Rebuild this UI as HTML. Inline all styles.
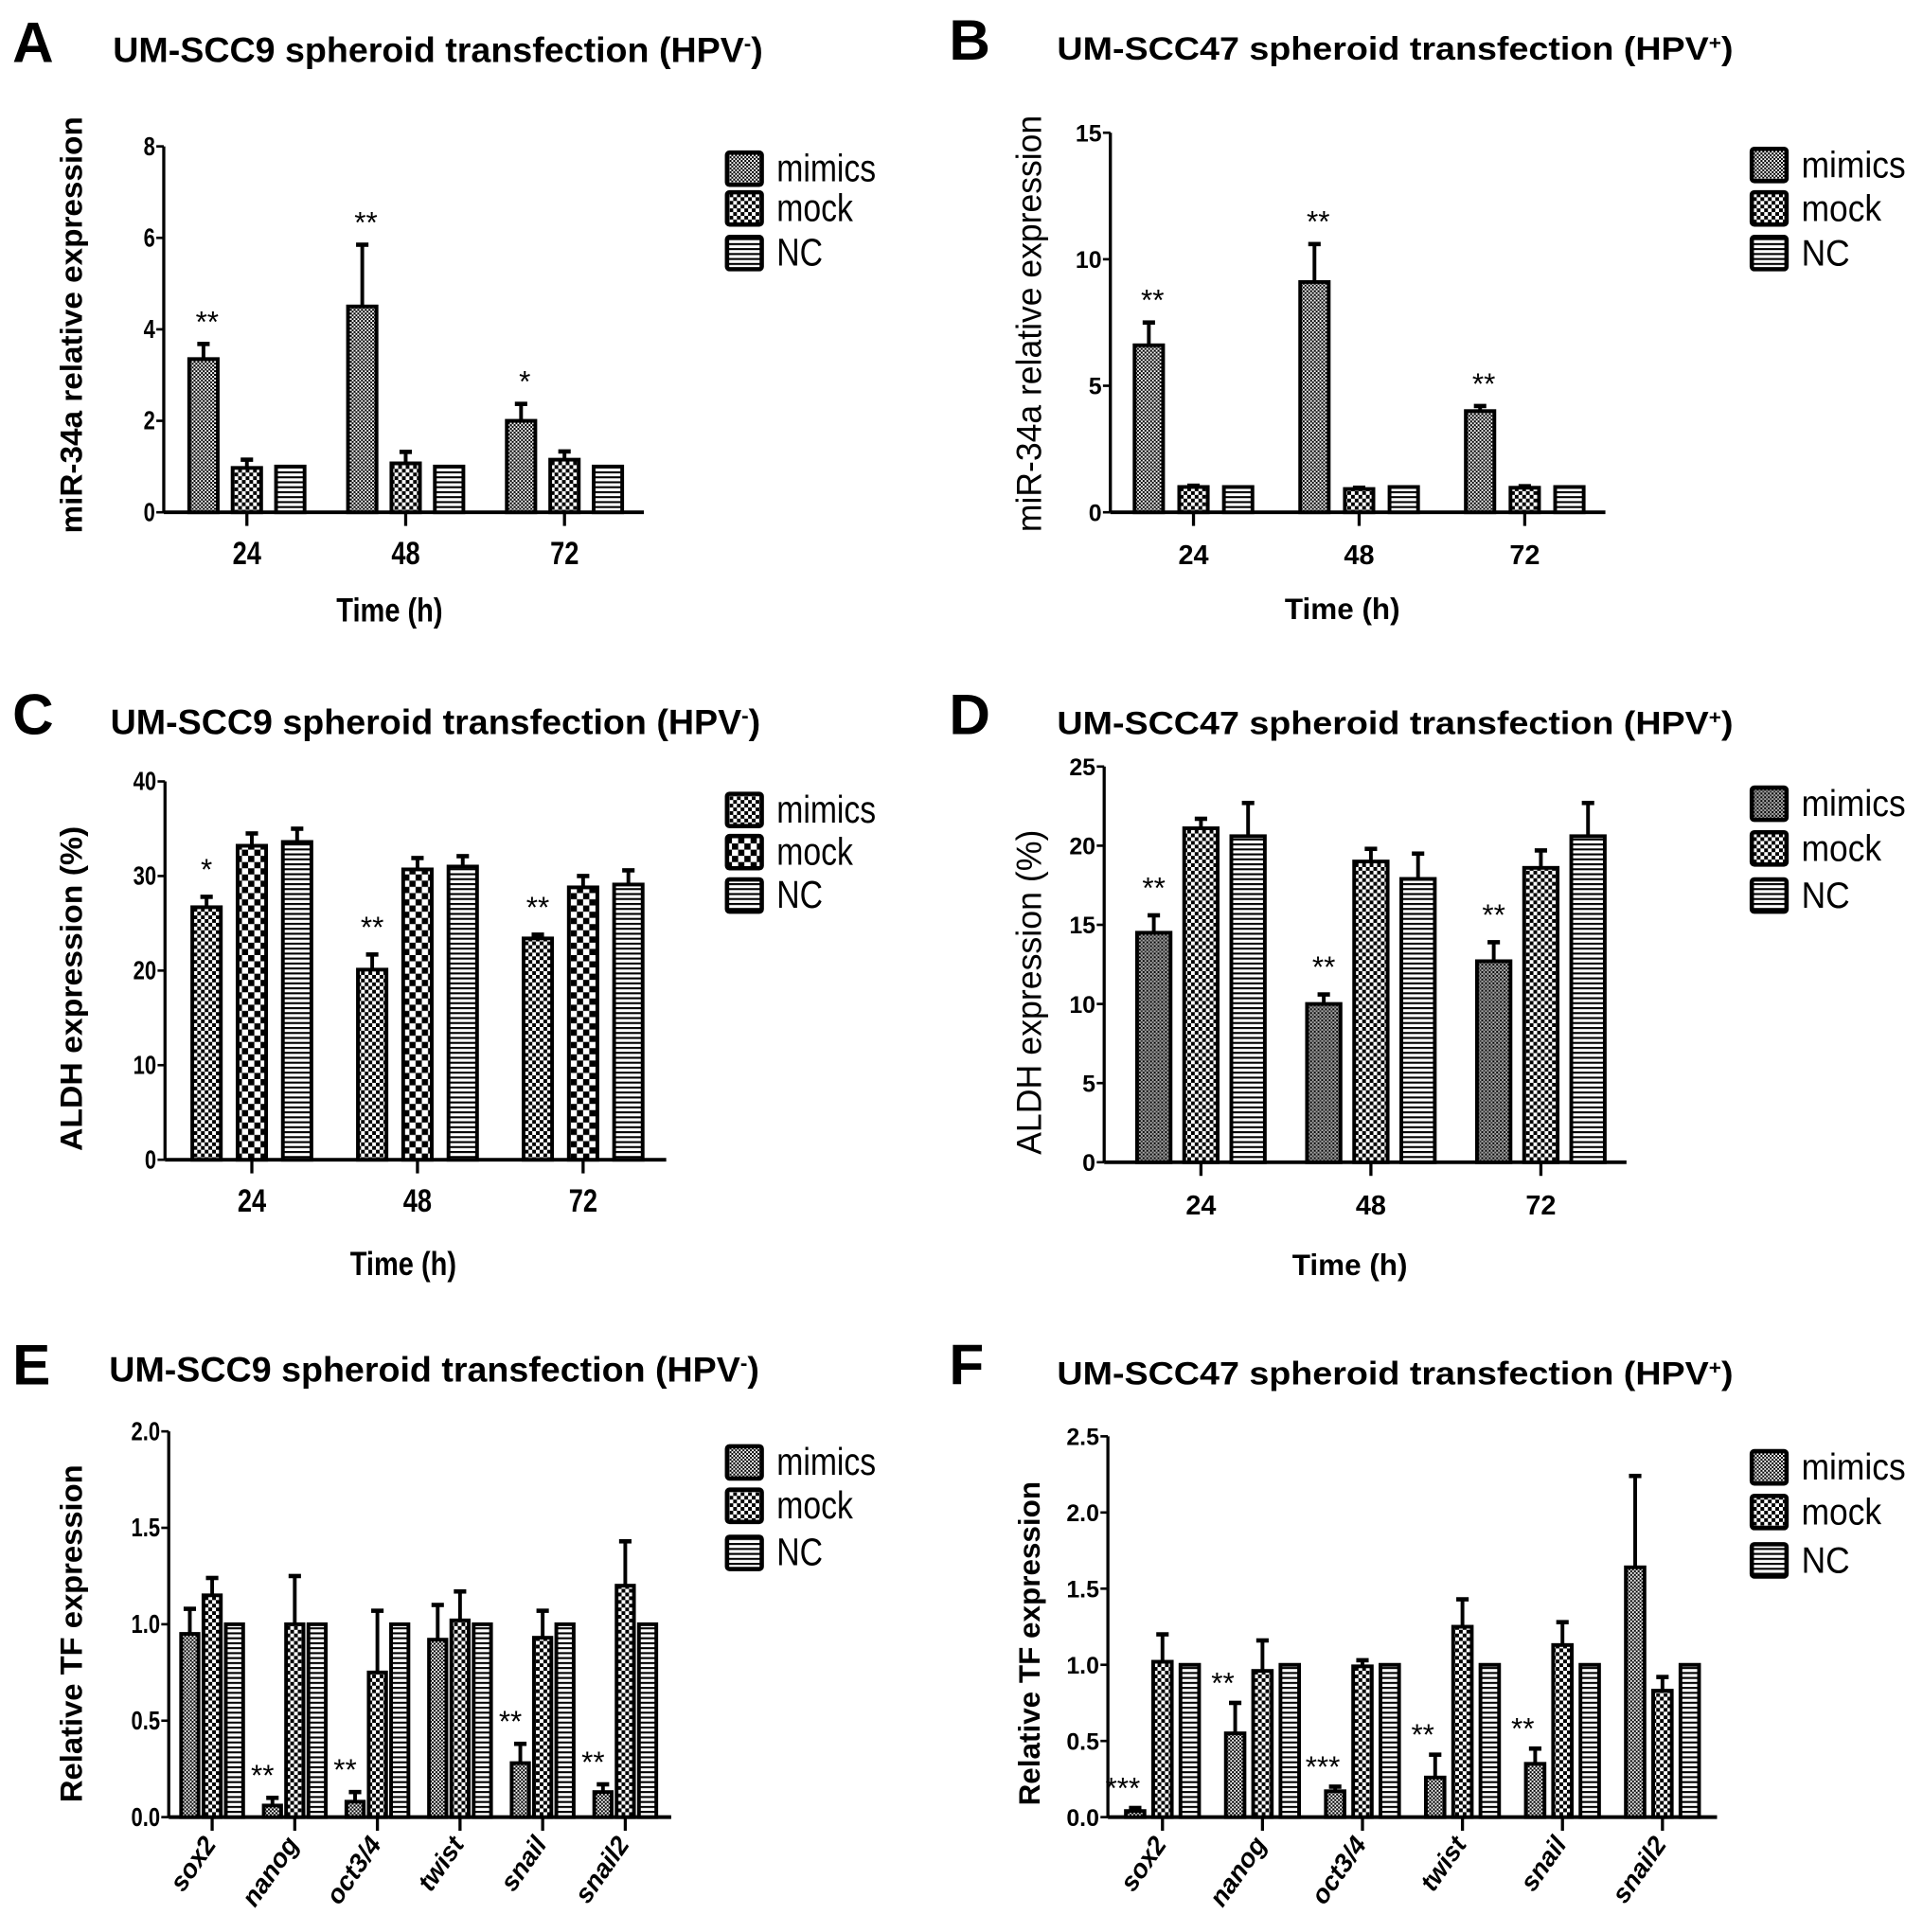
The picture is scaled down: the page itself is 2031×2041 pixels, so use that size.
<!DOCTYPE html>
<html><head><meta charset="utf-8"><style>
html,body{margin:0;padding:0;background:#fff;}
svg{display:block;}
text{font-family:"Liberation Sans",Arial,sans-serif;}
</style></head><body>
<svg id="fig" width="2031" height="2041" viewBox="0 0 1550 1557.6" xmlns="http://www.w3.org/2000/svg">
<defs>
<pattern id="pMim" width="3" height="3" patternUnits="userSpaceOnUse"><rect width="3" height="3" fill="#fff"/><rect width="1.6" height="1.6" fill="#000"/><rect x="1.5" y="1.5" width="1.5" height="1.5" fill="#000"/></pattern>
<pattern id="pMimD" width="3" height="3" patternUnits="userSpaceOnUse"><rect width="3" height="3" fill="#aaa"/><rect width="1.5" height="1.5" fill="#000"/><rect x="1.5" y="1.5" width="1.5" height="1.5" fill="#333"/></pattern>
<pattern id="pMock" width="6" height="6" patternUnits="userSpaceOnUse"><rect width="6" height="6" fill="#fff"/><rect width="3" height="3" fill="#000"/><rect x="3" y="3" width="3" height="3" fill="#000"/></pattern>
<pattern id="pMockL" width="10" height="10" patternUnits="userSpaceOnUse"><rect width="10" height="10" fill="#fff"/><rect width="5" height="5" fill="#000"/><rect x="5" y="5" width="5" height="5" fill="#000"/></pattern>
<pattern id="pNC" width="4" height="4" patternUnits="userSpaceOnUse"><rect width="4" height="4" fill="#fff"/><rect width="4" height="1.6" fill="#000"/></pattern>
</defs>
</svg>
<script>
// Panel A
const catsA = ['24','48','72'];
const mimA = [3.35, 4.5, 2.0];  const mimErrA = [0.33, 1.35, 0.37];
const mockA = [0.97, 1.07, 1.15]; const mockErrA = [0.18, 0.25, 0.18];
const ncA = [1, 1, 1]; const ncErrA = [0, 0, 0];
const sigA = ['**','**','*'];
const ticksA = [0, 2, 4, 6, 8];
// Panel B
const catsB = ['24','48','72'];
const mimB = [6.6, 9.1, 4.0]; const mimErrB = [0.9, 1.5, 0.2];
const mockB = [1.0, 0.92, 0.97]; const mockErrB = [0.05, 0.05, 0.06];
const ncB = [1, 1, 1]; const ncErrB = [0, 0, 0];
const sigB = ['**','**','**'];
const ticksB = [0, 5, 10, 15];
// Panel C
const catsC = ['24','48','72'];
const mimC = [26.7, 20.1, 23.4]; const mimErrC = [1.1, 1.6, 0.4];
const mockC = [33.2, 30.7, 28.8]; const mockErrC = [1.3, 1.2, 1.2];
const ncC = [33.6, 31.0, 29.1]; const ncErrC = [1.4, 1.1, 1.5];
const sigC = ['*','**','**'];
const ticksC = [0, 10, 20, 30, 40];
// Panel D
const catsD = ['24','48','72'];
const mimD = [14.5, 10.0, 12.7]; const mimErrD = [1.1, 0.6, 1.2];
const mockD = [21.1, 19.0, 18.6]; const mockErrD = [0.6, 0.8, 1.1];
const ncD = [20.6, 17.9, 20.6]; const ncErrD = [2.1, 1.6, 2.1];
const sigD = ['**','**','**'];
const ticksD = [0, 5, 10, 15, 20, 25];
// Panel E
const catsE = ['sox2','nanog','oct3/4','twist','snail','snail2'];
const mimE = [0.95, 0.06, 0.08, 0.92, 0.28, 0.13]; const mimErrE = [0.13, 0.04, 0.05, 0.18, 0.10, 0.04];
const mockE = [1.15, 1.0, 0.75, 1.02, 0.93, 1.2]; const mockErrE = [0.09, 0.25, 0.32, 0.15, 0.14, 0.23];
const ncE = [1, 1, 1, 1, 1, 1]; const ncErrE = [0, 0, 0, 0, 0, 0];
const sigE = ['','**','**','','**','**'];
const ticksE = ['0.0','0.5','1.0','1.5','2.0'];
// Panel F
const catsF = ['sox2','nanog','oct3/4','twist','snail','snail2'];
const mimF = [0.04, 0.55, 0.17, 0.26, 0.35, 1.64]; const mimErrF = [0.02, 0.2, 0.03, 0.15, 0.1, 0.6];
const mockF = [1.02, 0.96, 0.99, 1.25, 1.13, 0.83]; const mockErrF = [0.18, 0.2, 0.04, 0.18, 0.15, 0.09];
const ncF = [1, 1, 1, 1, 1, 1]; const ncErrF = [0, 0, 0, 0, 0, 0];
const sigF = ['***','**','***','**','**',''];
const ticksF = ['0.0','0.5','1.0','1.5','2.0','2.5'];

const NS = 'http://www.w3.org/2000/svg';
const svg = document.getElementById('fig');
function mk(tag, attrs, parent, txt){
  const e = document.createElementNS(NS, tag);
  for (const k in attrs) e.setAttribute(k, attrs[k]);
  if (txt !== undefined) e.textContent = txt;
  (parent || svg).appendChild(e);
  return e;
}
function squeeze(el, f){
  try {
    const w = el.getComputedTextLength();
    if (w > 0) { el.setAttribute('textLength', (w * f).toFixed(1)); el.setAttribute('lengthAdjust', 'spacingAndGlyphs'); }
  } catch(e) {}
}

function panel(p){
  const g = mk('g', {});
  
  
  const ymax = p.ticks[p.ticks.length-1] * 1;
  const Y = v => p.y0 - (v / ymax) * (p.y0 - p.yTop);
  const X = i => p.x1 + i * p.step;
  const L = mk('text', {x: p.lx, y: p.ly, 'font-size': 46, 'font-weight': 'bold'}, g, p.letter);
  
  
  const T = mk('text', {x: p.tx, y: p.ty, 'font-size': p.tfs, 'font-weight': 'bold'}, g);
  
  
  T.appendChild(document.createTextNode(p.title));
  mk('tspan', {'baseline-shift': 'super', 'font-size': p.tfs * 0.6}, T, p.sup);
  mk('tspan', {}, T, ')');
  T.setAttribute('textLength', p.tw);
  T.setAttribute('lengthAdjust', 'spacingAndGlyphs');
  const yl = mk('text', {x: 0, y: 0, 'font-size': p.ylfs, 'font-weight': p.ylBold ? 'bold' : 'normal', 'text-anchor': 'middle', transform: `translate(${p.ylx},${p.yly}) rotate(-90)`}, g, p.ylabel);
  
  
  if (p.ylw) { yl.setAttribute('textLength', p.ylw); yl.setAttribute('lengthAdjust', 'spacingAndGlyphs'); }
  const ax = mk('line', {x1: p.ax, y1: p.yTop, x2: p.ax, y2: p.y0, stroke: '#000', 'stroke-width': 2.5}, g);
  
  
  const bx = mk('line', {x1: p.ax, y1: p.y0, x2: p.axEnd, y2: p.y0, stroke: '#000', 'stroke-width': 3}, g);
  
  
  p.ticks.forEach(t => {
    const y = Y(+t);
    mk('line', {x1: p.ax - 6, y1: y, x2: p.ax, y2: y, stroke: '#000', 'stroke-width': 2}, g);
    const tl = mk('text', {x: p.ax - 7, y: y + 7, 'font-size': p.tkfs, 'font-weight': 'bold', 'text-anchor': 'end'}, g, t);
    
    
    if (p.cond) squeeze(tl, 0.8);
  });
  const series = [
    {v: p.mim, e: p.mimErr, fill: p.mimFill, off: -p.off, name: 'mimics'},
    {v: p.mock, e: p.mockErr, fill: p.mockFill, off: 0, name: 'mock'},
    {v: p.nc, e: p.ncErr, fill: 'url(#pNC)', off: p.off, name: 'nc'}
  ];
  p.cats.forEach((c, i) => {
    const cx = X(i);
    mk('line', {x1: cx, y1: p.y0, x2: cx, y2: p.y0 + 11, stroke: '#000', 'stroke-width': 2.5}, g);
    series.forEach(s => {
      const bxc = cx + s.off, top = Y(s.v[i]), et = Y(s.v[i] + s.e[i]);
      if (s.e[i] > 0) {
        mk('line', {x1: bxc, y1: top, x2: bxc, y2: et, stroke: '#000', 'stroke-width': 3}, g);
        mk('line', {x1: bxc - 5, y1: et, x2: bxc + 5, y2: et, stroke: '#000', 'stroke-width': 3.5}, g);
      }
      const r = mk('rect', {x: bxc - p.bw/2, y: top, width: p.bw, height: p.y0 - top, fill: s.fill, stroke: '#000', 'stroke-width': 3}, g);
      
      
    });
    if (p.sig[i]) {
      const et = Y(p.mim[i] + p.mimErr[i]);
      const st = mk('text', {x: cx - p.off + p.sigDx, y: et + p.sigDy, 'font-size': 24, 'text-anchor': 'middle'}, g, p.sig[i]);
      
      
    }
    let cl;
    if (p.rotate) {
      cl = mk('text', {x: 0, y: 0, 'font-size': 21, 'font-weight': 'bold', 'font-style': 'italic', 'text-anchor': 'end', transform: `translate(${cx + 4},${p.y0 + 22}) rotate(-55)`}, g, c);
    } else {
      cl = mk('text', {x: cx, y: p.y0 + 42, 'font-size': p.xtfs, 'font-weight': 'bold', 'text-anchor': 'middle'}, g, c);
      if (p.cond) squeeze(cl, 0.8);
    }
    
    
  });
  if (p.xlabel) {
    const xl = mk('text', {x: p.xlx, y: p.xly, 'font-size': p.xlfs, 'font-weight': 'bold', 'text-anchor': 'middle'}, g, 'Time (h)');
    
    
    if (p.cond) squeeze(xl, 0.82);
  }
  const lg = mk('g', {}, g);
  
  
  [['mimics', p.mimFill], ['mock', p.mockFill], ['NC', 'url(#pNC)']].forEach((it, k) => {
    const cy = p.legY[k];
    const e = mk('g', {}, lg);
    
    
    mk('rect', {x: p.legX, y: cy - 13, width: 28, height: 26, fill: it[1], stroke: '#000', 'stroke-width': 3.5, rx: 2}, e);
    const lt = mk('text', {x: p.legX + 40, y: cy + 10, 'font-size': p.legfs}, e, it[0]);
    squeeze(lt, p.cond ? 0.83 : 0.9);
  });
}

panel({letter:'A', lx:10, ly:50, title:'UM-SCC9 spheroid transfection (HPV', sup:'-', tx:91, ty:50, tfs:28, tw:524, cond:true,
  ylabel:'miR-34a relative expression', ylx:66, yly:262, ylfs:25, ylBold:true, ylw:336,
  ax:132, axEnd:519, y0:413, yTop:118, ticks:ticksA.map(String), tkfs:21, xtfs:26,
  cats:catsA, x1:199, step:128, off:35, bw:23,
  mim:mimA, mimErr:mimErrA, mock:mockA, mockErr:mockErrA, nc:ncA, ncErr:ncErrA, sig:sigA, sigDx:3, sigDy:-10,
  mimFill:'url(#pMim)', mockFill:'url(#pMock)',
  xlabel:true, xlx:314, xly:501, xlfs:27,
  legX:586, legY:[136,168,204], legfs:31});

panel({letter:'B', lx:765, ly:48, title:'UM-SCC47 spheroid transfection (HPV', sup:'+', tx:852, ty:48, tfs:26, tw:545, cond:false,
  ylabel:'miR-34a relative expression', ylx:839, yly:261, ylfs:28, ylBold:false, ylw:336,
  ax:895, axEnd:1294, y0:413, yTop:107, ticks:ticksB.map(String), tkfs:19, xtfs:22,
  cats:catsB, x1:962, step:133.5, off:36, bw:23,
  mim:mimB, mimErr:mimErrB, mock:mockB, mockErr:mockErrB, nc:ncB, ncErr:ncErrB, sig:sigB, sigDx:3, sigDy:-10,
  mimFill:'url(#pMim)', mockFill:'url(#pMock)',
  xlabel:true, xlx:1082, xly:499, xlfs:24,
  legX:1412, legY:[133,168,204], legfs:30});

panel({letter:'C', lx:10, ly:592, title:'UM-SCC9 spheroid transfection (HPV', sup:'-', tx:89, ty:592, tfs:28, tw:524, cond:true,
  ylabel:'ALDH expression (%)', ylx:66, yly:797, ylfs:25, ylBold:true, ylw:262,
  ax:133, axEnd:537, y0:935, yTop:630, ticks:ticksC.map(String), tkfs:21, xtfs:26,
  cats:catsC, x1:203, step:133.5, off:36.5, bw:23,
  mim:mimC, mimErr:mimErrC, mock:mockC, mockErr:mockErrC, nc:ncC, ncErr:ncErrC, sig:sigC, sigDx:0, sigDy:-14,
  mimFill:'url(#pMock)', mockFill:'url(#pMockL)',
  xlabel:true, xlx:325, xly:1028, xlfs:27,
  legX:586, legY:[653,687,722], legfs:31});

panel({letter:'D', lx:765, ly:592, title:'UM-SCC47 spheroid transfection (HPV', sup:'+', tx:852, ty:592, tfs:26, tw:545, cond:false,
  ylabel:'ALDH expression (%)', ylx:839, yly:800, ylfs:28, ylBold:false, ylw:262,
  ax:890, axEnd:1311, y0:937, yTop:618, ticks:ticksD.map(String), tkfs:19, xtfs:22,
  cats:catsD, x1:968, step:137, off:38, bw:27,
  mim:mimD, mimErr:mimErrD, mock:mockD, mockErr:mockErrD, nc:ncD, ncErr:ncErrD, sig:sigD, sigDx:0, sigDy:-14,
  mimFill:'url(#pMimD)', mockFill:'url(#pMock)',
  xlabel:true, xlx:1088, xly:1028, xlfs:24,
  legX:1412, legY:[648,684,722], legfs:30});

panel({letter:'E', lx:10, ly:1116, title:'UM-SCC9 spheroid transfection (HPV', sup:'-', tx:88, ty:1114, tfs:28, tw:524, cond:true,
  ylabel:'Relative TF expression', ylx:66, yly:1317, ylfs:25, ylBold:true,
  ax:136, axEnd:541, y0:1465, yTop:1154, ticks:ticksE, tkfs:21, xtfs:20,
  cats:catsE, x1:171, step:66.6, off:18, bw:14, rotate:true,
  mim:mimE, mimErr:mimErrE, mock:mockE, mockErr:mockErrE, nc:ncE, ncErr:ncErrE, sig:sigE, sigDx:-8, sigDy:-10,
  mimFill:'url(#pMim)', mockFill:'url(#pMock)',
  xlabel:false,
  legX:586, legY:[1179,1214,1252], legfs:31});

panel({letter:'F', lx:765, ly:1116, title:'UM-SCC47 spheroid transfection (HPV', sup:'+', tx:852, ty:1116, tfs:26, tw:545, cond:false,
  ylabel:'Relative TF expression', ylx:838, yly:1325, ylfs:24, ylBold:true,
  ax:893, axEnd:1384, y0:1465, yTop:1158, ticks:ticksF, tkfs:19, xtfs:20,
  cats:catsF, x1:937, step:80.6, off:22, bw:15, rotate:true,
  mim:mimF, mimErr:mimErrF, mock:mockF, mockErr:mockErrF, nc:ncF, ncErr:ncErrF, sig:sigF, sigDx:-10, sigDy:-8,
  mimFill:'url(#pMim)', mockFill:'url(#pMock)',
  xlabel:false,
  legX:1412, legY:[1183,1219,1258], legfs:30});
</script>
</body></html>
